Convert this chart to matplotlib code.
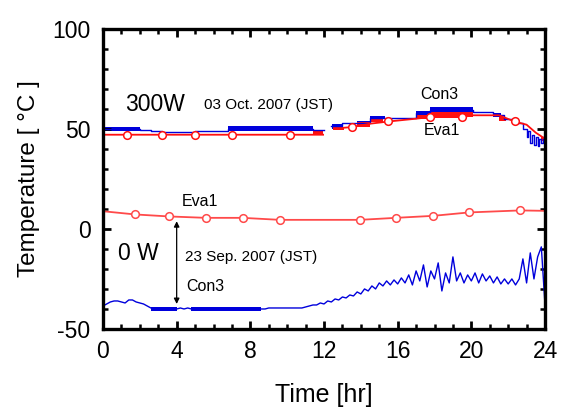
import numpy as np
import matplotlib
matplotlib.use("Agg")
import matplotlib.pyplot as plt

plt.rcParams['font.family'] = ['Liberation Sans', 'DejaVu Sans']
plt.rcParams['axes.unicode_minus'] = False

# ---- 0 W run (23 Sep. 2007) ----
eva1_0w_t = [0.0, 1.74, 3.58, 5.59, 7.58, 9.6, 11.8, 13.95, 15.9, 17.93, 19.87, 22.64, 24.0]
eva1_0w_T = [8.8, 7.2, 6.2, 5.5, 5.5, 4.5, 4.5, 4.5, 5.5, 6.5, 8.2, 9.2, 9.0]
eva1_0w_marks = [1, 2, 3, 4, 5, 7, 8, 9, 10, 11]

con3_0w_t0 = 0.0
con3_0w_dt = 0.2
con3_0w_T = [
    -38.5, -37.5, -36.5, -36.0, -36.0, -36.5, -37.0, -35.5, -35.5, -36.5,
    -37.0, -37.5, -38.5, -39.5, -40.0, -39.5, -40.0, -39.5, -40.0, -39.5,
    -40.0, -39.5, -40.0, -39.5, -40.0, -39.5, -40.0, -39.5, -40.0, -39.5,
    -40.0, -39.5, -40.0, -39.5, -40.0, -39.5, -40.0, -39.5, -40.0, -39.5,
    -40.0, -39.5, -40.0, -40.0, -40.0, -39.5, -39.5, -39.5, -39.5, -39.5,
    -39.5, -39.5, -39.5, -39.5, -39.5, -39.0, -38.5, -38.0, -38.0, -37.0,
    -37.5, -36.0, -36.5, -35.0, -35.5, -34.0, -34.5, -33.0, -33.5, -31.5,
    -32.5, -30.0, -31.0, -28.5, -30.0, -27.0, -28.5, -26.0, -28.0, -25.5,
    -27.5, -24.5, -27.0, -23.0, -28.0, -21.0, -26.0, -18.0, -29.0, -21.0,
    -25.0, -17.0, -31.0, -22.0, -27.0, -14.0, -26.0, -22.0, -27.0, -23.0,
    -26.0, -22.0, -27.0, -22.5, -26.0, -23.5, -27.0, -24.0, -27.5, -25.0,
    -27.5, -25.0, -28.0, -25.0, -15.0, -27.0, -12.0, -25.0, -14.0, -9.0,
    -38.0,
]
con3_0w_band_start = [2.6, 4.8]
con3_0w_band_end = [4.0, 8.6]
con3_0w_band_low = [-41.0, -41.0]
con3_0w_band_high = [-39.0, -39.0]

# ---- 300 W run (03 Oct. 2007) ----
eva1_300_t = [0.0, 1.29, 3.2, 5.0, 7.0, 10.15, 11.95, np.nan, 13.1, 13.5, 14.5,
              15.5, 17.0, 17.75, 19.47, 20.1, 21.5, 22.35, 23.0, 23.5, 24.0]
eva1_300_T = [47.0, 47.0, 47.0, 47.0, 47.0, 47.0, 47.0, np.nan, 50.5, 50.8, 52.5,
              53.6, 55.0, 55.8, 55.8, 56.7, 56.7, 53.6, 52.0, 48.0, 45.0]
eva1_300_marks = [1, 2, 3, 4, 5, 9, 11, 13, 14, 17]

con3_300_t = [0.0, 2.0, 2.6, 3.2, 5.0, 6.8, 11.4, 12.0, np.nan, 12.4, 13.0, 13.8,
              14.5, 15.3, 17.0, 17.75, 20.1, 21.2, 21.8, 22.5, 22.8, 23.0, 23.1,
              23.2, 23.3, 23.4, 23.5, 23.6, 23.7, 23.8, 23.9, 24.0]
con3_300_T = [50.0, 49.5, 49.0, 48.5, 49.0, 50.0, 49.5, 49.5, np.nan, 51.5, 53.0, 53.0,
              55.5, 55.5, 58.0, 59.5, 58.5, 57.0, 55.0, 53.0, 50.0, 46.0, 49.0,
              43.0, 47.0, 42.0, 46.0, 41.5, 45.0, 43.0, 46.0, 45.5]

# fluctuation bands: start hr, end hr, low, high
con3_300_band_start = [0.1, 6.8, 12.45, 13.8, 14.5, 17.0, 17.75, 21.2]
con3_300_band_end = [2.0, 11.4, 13.0, 14.5, 15.3, 17.75, 20.1, 21.6]
con3_300_band_low = [48.8, 49.0, 50.0, 52.5, 54.7, 57.0, 58.3, 56.0]
con3_300_band_high = [50.8, 51.2, 52.5, 54.0, 56.3, 59.0, 60.8, 57.8]

eva1_300_band_start = [11.4, 12.5, 13.8, 14.5, 17.0, 17.75, 21.5, 23.8]
eva1_300_band_end = [11.95, 13.1, 14.5, 15.2, 17.75, 20.1, 21.9, 24.0]
eva1_300_band_low = [47.0, 49.3, 51.0, 53.5, 55.0, 55.8, 53.6, 44.0]
eva1_300_band_high = [49.0, 50.7, 53.3, 55.0, 56.7, 58.3, 55.8, 46.0]

x_ticks = [0, 4, 8, 12, 16, 20, 24]
y_ticks = [-50, 0, 50, 100]

RED = '#ff1010'
RED_LIGHT = '#ff4a4a'
BLUE = '#0000dc'

fig = plt.figure(figsize=(5.61, 4.08), dpi=100)
ax = fig.add_axes([0.1836, 0.1936, 0.9715 - 0.1836, 0.930 - 0.1936])

# 0 W
con3_0w_tt = con3_0w_t0 + con3_0w_dt * np.arange(len(con3_0w_T))
for s, e, lo, hi in zip(con3_0w_band_start, con3_0w_band_end,
                        con3_0w_band_low, con3_0w_band_high):
    ax.fill_between([s, e], lo, hi, color=BLUE, lw=0)
ax.plot(con3_0w_tt, con3_0w_T, color=BLUE, lw=1.0)
ax.plot(eva1_0w_t, eva1_0w_T, color=RED_LIGHT, lw=1.3, marker='o',
        markevery=eva1_0w_marks, ms=5.5, mfc='white', mec=RED_LIGHT, mew=1.1)

# 300 W
for s, e, lo, hi in zip(con3_300_band_start, con3_300_band_end,
                        con3_300_band_low, con3_300_band_high):
    ax.fill_between([s, e], lo, hi, color=BLUE, lw=0)
ax.plot(con3_300_t, con3_300_T, drawstyle='steps-post', color=BLUE, lw=1.0)
for s, e, lo, hi in zip(eva1_300_band_start, eva1_300_band_end,
                        eva1_300_band_low, eva1_300_band_high):
    ax.fill_between([s, e], lo, hi, color=RED, lw=0)
ax.plot(eva1_300_t, eva1_300_T, color=RED, lw=1.3, marker='o',
        markevery=eva1_300_marks, ms=5.5, mfc='white', mec=RED, mew=1.1)

# annotations
ax.annotate('', xy=(4.0, -37.5), xytext=(4.0, 3.8),
            arrowprops=dict(arrowstyle='<|-|>', color='black', lw=0.9,
                            mutation_scale=8, shrinkA=0, shrinkB=0))
ax.text(1.2, 62.0, '300W', fontsize=16.5, va='center', ha='left')
ax.text(5.5, 62.0, '03 Oct. 2007 (JST)', fontsize=11, va='center', ha='left')
ax.text(17.25, 67.0, 'Con3', fontsize=11.5, va='center', ha='left')
ax.text(17.4, 49.0, 'Eva1', fontsize=11.5, va='center', ha='left')
ax.text(4.27, 13.7, 'Eva1', fontsize=11.5, va='center', ha='left')
ax.text(0.82, -12.4, '0 W', fontsize=16.5, va='center', ha='left')
ax.text(4.45, -14.0, '23 Sep. 2007 (JST)', fontsize=11, va='center', ha='left')
ax.text(4.54, -29.0, 'Con3', fontsize=11.5, va='center', ha='left')

ax.set_xlim(0, 24)
ax.set_ylim(-50, 100)
ax.set_xticks(x_ticks)
ax.set_yticks(y_ticks)
ax.set_xticks(np.arange(0, 25, 1), minor=True)
ax.set_yticks(np.arange(-50, 101, 10), minor=True)
ax.tick_params(which='both', direction='in', top=True, right=True,
               labelsize=16.5, width=2)
ax.tick_params(which='major', length=6, pad=8)
ax.tick_params(which='minor', length=3.5, width=1.8)
ax.tick_params(axis='y', which='major', pad=9)
for sp in ax.spines.values():
    sp.set_linewidth(2.4)

ax.set_xlabel('Time [hr]', fontsize=18, labelpad=14.5)
ax.set_ylabel('Temperature [ °C ]', fontsize=17.5, labelpad=9)

fig.savefig('out.png', dpi=100)
